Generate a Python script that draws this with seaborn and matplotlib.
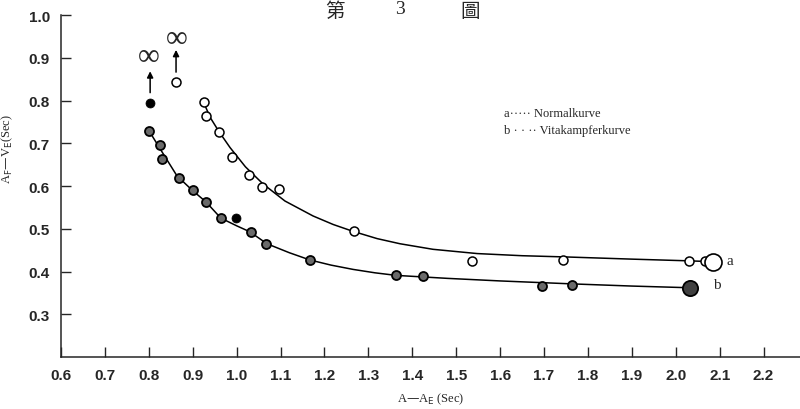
import numpy as np
import pandas as pd
import matplotlib
matplotlib.use("Agg")
import matplotlib.pyplot as plt
import seaborn as sns

# measured points, curve a (Normalkurve, open circles)
a_x = [0.926, 0.93, 0.96, 0.99, 1.028, 1.058, 1.097, 1.267, 1.536, 1.743, 2.03, 2.067]
a_y = [0.797, 0.764, 0.727, 0.668, 0.626, 0.598, 0.593, 0.495, 0.425, 0.427, 0.425, 0.425]
a_inf = (0.862, 0.844)
a_big = (2.085, 0.422)

# measured points, curve b (Vitakampferkurve, shaded circles)
b_x = [0.80, 0.826, 0.83, 0.869, 0.90, 0.93, 0.964, 1.033, 1.067, 1.167, 1.363, 1.425, 1.696, 1.764]
b_y = [0.729, 0.696, 0.664, 0.619, 0.591, 0.563, 0.525, 0.493, 0.465, 0.427, 0.392, 0.39, 0.366, 0.369]
b_solid_x = [0.803, 0.999]
b_solid_y = [0.795, 0.525]
b_big = (2.033, 0.362)

# hand-drawn curves
curve_a_x = [0.923, 0.94, 0.96, 0.985, 1.02, 1.06, 1.11, 1.174, 1.22, 1.265, 1.32, 1.372,
             1.447, 1.548, 1.65, 1.753, 1.9, 2.03, 2.085]
curve_a_y = [0.80, 0.76, 0.727, 0.69, 0.645, 0.605, 0.565, 0.530, 0.510, 0.494, 0.477, 0.465,
             0.452, 0.442, 0.437, 0.434, 0.429, 0.425, 0.423]
curve_b_x = [0.80, 0.83, 0.864, 0.898, 0.93, 0.964, 1.0, 1.03, 1.069, 1.12, 1.167,
             1.215, 1.265, 1.315, 1.363, 1.48, 1.60, 1.766, 1.9, 2.033]
curve_b_y = [0.73, 0.68, 0.624, 0.591, 0.563, 0.525, 0.507, 0.493, 0.465, 0.444, 0.427,
             0.415, 0.405, 0.397, 0.391, 0.384, 0.378, 0.371, 0.366, 0.362]

x_ticks = [0.6, 0.7, 0.8, 0.9, 1.0, 1.1, 1.2, 1.3, 1.4, 1.5, 1.6, 1.7, 1.8, 1.9, 2.0, 2.1, 2.2]
y_ticks = [0.3, 0.4, 0.5, 0.6, 0.7, 0.8, 0.9, 1.0]

sns.set_style("ticks")
plt.rcParams['font.family'] = ['Liberation Serif', 'DejaVu Serif']

fig = plt.figure(figsize=(8, 4.1), dpi=100)
ax = fig.add_axes([0.07625, 0.1268, 0.92375, 0.834])

line_kw = dict(color="black", linewidth=1.1, sort=False, estimator=None, ax=ax, legend=False)
sns.lineplot(x=curve_a_x, y=curve_a_y, **line_kw)
sns.lineplot(x=curve_b_x, y=curve_b_y, **line_kw)

# open circles (a)
sns.scatterplot(x=a_x + [a_inf[0]], y=a_y + [a_inf[1]], s=42, facecolor="white",
                edgecolor="black", linewidth=1.1, zorder=3, ax=ax)
sns.scatterplot(x=[a_big[0]], y=[a_big[1]], s=150, facecolor="white",
                edgecolor="black", linewidth=1.2, zorder=3, ax=ax)
# shaded circles (b)
sns.scatterplot(x=b_x, y=b_y, s=42, facecolor="#6a6a6a", edgecolor="black",
                linewidth=1.3, zorder=3, ax=ax)
sns.scatterplot(x=b_solid_x, y=b_solid_y, s=42, facecolor="black", edgecolor="black",
                zorder=3, ax=ax)
sns.scatterplot(x=[b_big[0]], y=[b_big[1]], s=120, facecolor="#404040", edgecolor="black",
                linewidth=1.3, zorder=3, ax=ax)

# arrows to infinity
arrow = dict(arrowstyle="-|>", color="black", lw=1.1, mutation_scale=9)
ax.annotate("", xy=(0.803, 0.875), xytext=(0.803, 0.812), arrowprops=arrow)
ax.annotate("", xy=(0.862, 0.925), xytext=(0.862, 0.86), arrowprops=arrow)
ax.text(0.80, 0.902, "∞", fontsize=22, ha="center", va="center")
ax.text(0.864, 0.946, "∞", fontsize=22, ha="center", va="center")

# curve labels and key
ax.text(2.115, 0.425, "a", fontsize=11, ha="left", va="center")
ax.text(2.085, 0.369, "b", fontsize=11, ha="left", va="center")
ax.text(1.61, 0.771, "a····· Normalkurve", fontsize=9, ha="left", va="center")
ax.text(1.61, 0.730, "b · · ·· Vitakampferkurve", fontsize=9, ha="left", va="center")

ax.set_xlim(0.6, 2.283)
ax.set_ylim(0.2, 1.0)
ax.set_xticks(x_ticks)
ax.set_yticks(y_ticks)
ax.set_xticklabels([f"{v:.1f}" for v in x_ticks], family="Liberation Sans",
                   fontweight="bold", fontsize=11)
ax.set_yticklabels([f"{v:.1f}" for v in y_ticks], family="Liberation Sans",
                   fontweight="bold", fontsize=11)
ax.tick_params(axis="both", direction="in", length=7, width=1, pad=8)
for side in ["top", "right"]:
    ax.spines[side].set_visible(False)
for side in ["left", "bottom"]:
    ax.spines[side].set_linewidth(1.1)

ax.set_xlabel("A—A$_\\mathrm{E}$ (Sec)", fontsize=9)
ax.xaxis.set_label_coords(0.5, -0.098)
ax.set_ylabel("A$_\\mathrm{F}$—V$_\\mathrm{E}$(Sec)", fontsize=9)
ax.yaxis.set_label_coords(-0.062, 0.61)

title_font = ["Noto Sans CJK TC", "DejaVu Sans"]
fig.text(0.419, 0.998, "第", fontsize=14, ha="center", va="top", family=title_font)
fig.text(0.50, 0.998, "3", fontsize=14, ha="center", va="top", family="Liberation Serif")
fig.text(0.588, 0.998, "圖", fontsize=14, ha="center", va="top", family=title_font)

fig.savefig("out.png", dpi=100)
